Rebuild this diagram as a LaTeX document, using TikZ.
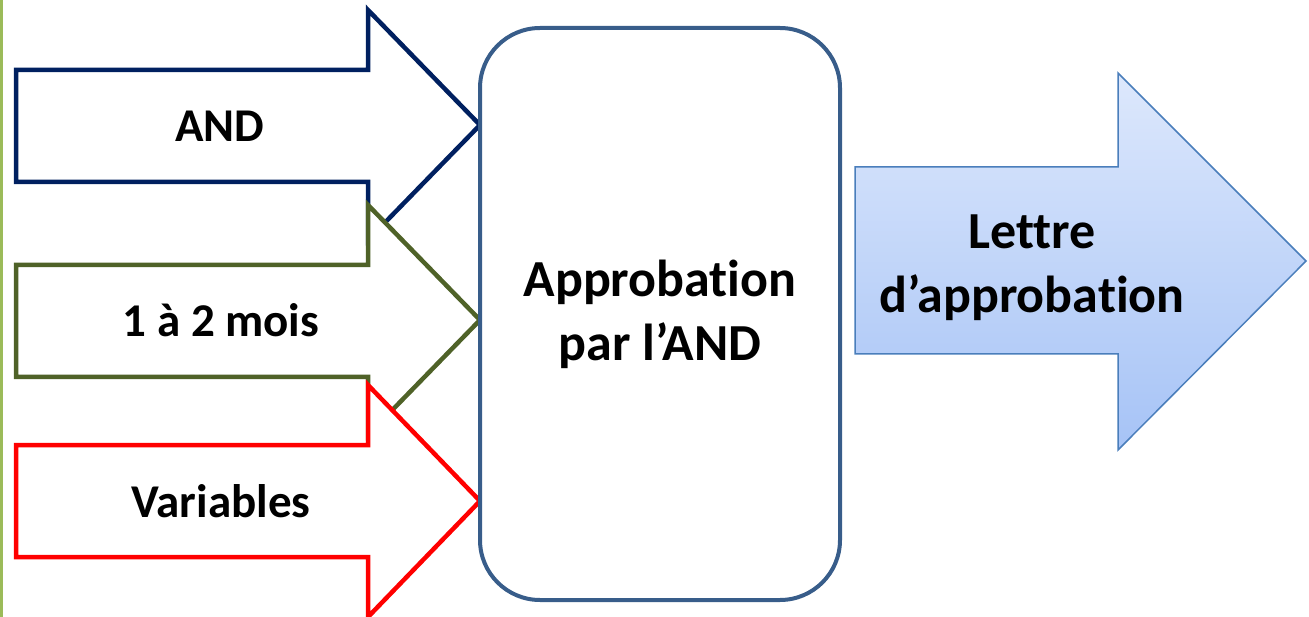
\documentclass[tikz,border=0pt]{standalone}
\usepackage{fontspec}
\setmainfont[RawFeature={-liga;-dlig;-clig}]{Carlito}
\usetikzlibrary{positioning}

\definecolor{andblue}{HTML}{002060}
\definecolor{delaygreen}{HTML}{4F6228}
\definecolor{boxblue}{HTML}{385D8A}
\definecolor{outblue}{HTML}{4A7EBB}
\definecolor{sidegreen}{HTML}{9BBB59}
\definecolor{outtop}{HTML}{DDE8FC}
\definecolor{outbottom}{HTML}{A6C3F6}

\begin{document}
\begin{tikzpicture}[x=1pt,y=-1pt,
  inarrow/.style={line width=4.5pt, fill=white, line join=miter},
  label/.style={font=\fontsize{47}{56}\selectfont\bfseries, anchor=base},
  bigtext/.style={font=\fontsize{52}{64}\selectfont\bfseries, align=center}]

  \useasboundingbox (0,0) rectangle (1309,617);

  % Side rule
  \fill[sidegreen] (0,0) rectangle (2.5,617);

  % Input arrows
  \draw[inarrow, draw=andblue] (16,70) -- (368,70) -- (368,10) -- (480,125)
    -- (368,240) -- (368,182) -- (16,182) -- cycle;
  \draw[inarrow, draw=delaygreen] (16,265) -- (368,265) -- (368,205) -- (480,320)
    -- (368,435) -- (368,377) -- (16,377) -- cycle;
  \draw[inarrow, draw=red] (16,445) -- (368,445) -- (368,385) -- (480,501)
    -- (368,617) -- (368,557) -- (16,557) -- cycle;

  \node[label] (and) at (220,142) {AND};
  \node[label] (delay) at (221,337) {1 à 2 mois};
  \node[label] (cost) at (221,517) {Variables};

  % Approval box
  \node[draw=boxblue, line width=4pt, fill=white, rounded corners=60pt,
        minimum width=360pt, minimum height=572pt, bigtext] (approval) at (660,314)
        {Approbation\\par l’AND};

  % Output arrow
  \shade[top color=outtop, bottom color=outbottom,
         draw=outblue, line width=1.5pt, line join=miter]
    (855,167) -- (1118,167) -- (1118,73) -- (1306,261)
    -- (1118,450) -- (1118,354) -- (855,354) -- cycle;
  \node[bigtext] (letter) at (1032,268) {Lettre\\d’approbation};

\end{tikzpicture}
\end{document}
